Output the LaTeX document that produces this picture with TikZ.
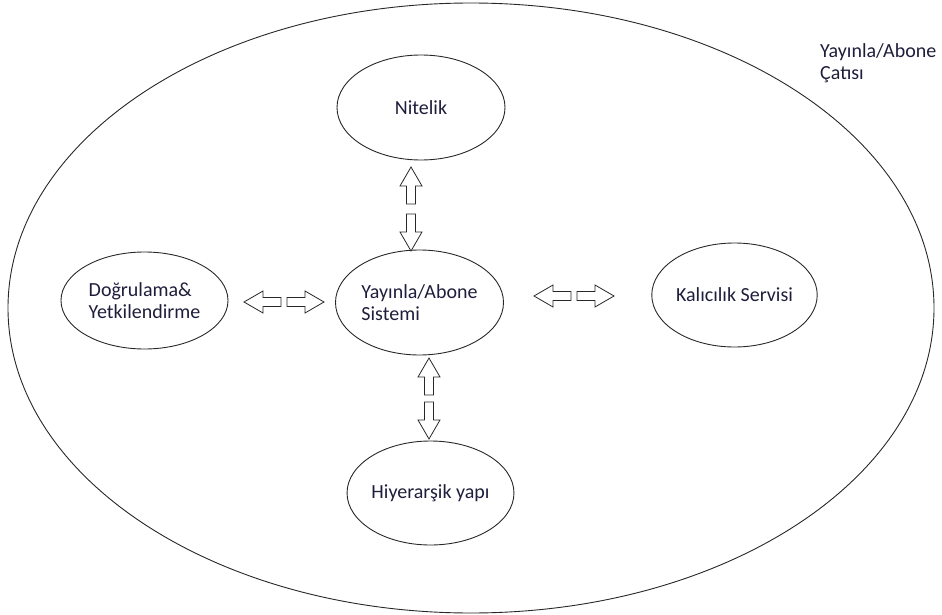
\documentclass[tikz,border=0pt]{standalone}
\usepackage{fontspec}
\setmainfont{Carlito}
\usetikzlibrary{shapes.geometric}
\definecolor{ink}{RGB}{40,40,40}
\definecolor{txt}{RGB}{30,30,60}
\tikzset{
  bubble/.style={ellipse, draw=ink, line width=0.9pt, inner sep=0pt,
    font=\fontsize{20}{22}\selectfont, text=txt, align=left},
  label/.style={font=\fontsize{20}{22}\selectfont, text=txt, align=left, inner sep=0pt},
  blockarrow/.pic={
    \draw[ink, line width=0.8pt, line join=miter, fill=white]
      (0,0) -- (-19,11) -- (-19,4.5) -- (-37,4.5) -- (-37,-4.5)
      -- (-19,-4.5) -- (-19,-11) -- cycle;
  }
}
\begin{document}
\begin{tikzpicture}[x=1pt, y=-1pt]
  \useasboundingbox (0,0) rectangle (942,615);

  % framework boundary and its title
  \draw[ink, line width=0.9pt] (471,308) ellipse [x radius=463, y radius=305];
  \node[label, anchor=north west] (title) at (820,43) {Yayınla/Abone\\Çatısı};

  % components
  \node[bubble, minimum width=168, minimum height=105] (core) at (419.5,302.5)
    {Yayınla/Abone\\Sistemi};
  \node[bubble, minimum width=168, minimum height=105] (attr) at (421,107.5) {Nitelik};
  \node[bubble, minimum width=167, minimum height=97] (auth) at (144.5,300.5)
    {Doğrulama\&\\Yetkilendirme};
  \node[bubble, minimum width=165, minimum height=104] (persist) at (734.5,295)
    {Kalıcılık Servisi};
  \node[bubble, minimum width=165, minimum height=104] (hier) at (430.5,493)
    {Hiyerarşik yapı};

  % two-way block arrows between the core and each component
  \coordinate (authTip) at (244,302);
  \coordinate (coreTipL) at (324,302);
  \coordinate (coreTipR) at (534,296);
  \coordinate (persistTip) at (614,296);
  \coordinate (attrTip) at (411,167);
  \coordinate (coreTipT) at (411,251);
  \coordinate (coreTipB) at (429,358);
  \coordinate (hierTip) at (429,439);

  \pic[rotate=180] at (authTip) {blockarrow};
  \pic at (coreTipL) {blockarrow};
  \pic[rotate=180] at (coreTipR) {blockarrow};
  \pic at (persistTip) {blockarrow};
  \pic[rotate=90] at (attrTip) {blockarrow};
  \pic[rotate=-90] at (coreTipT) {blockarrow};
  \pic[rotate=90] at (coreTipB) {blockarrow};
  \pic[rotate=-90] at (hierTip) {blockarrow};
\end{tikzpicture}
\end{document}
